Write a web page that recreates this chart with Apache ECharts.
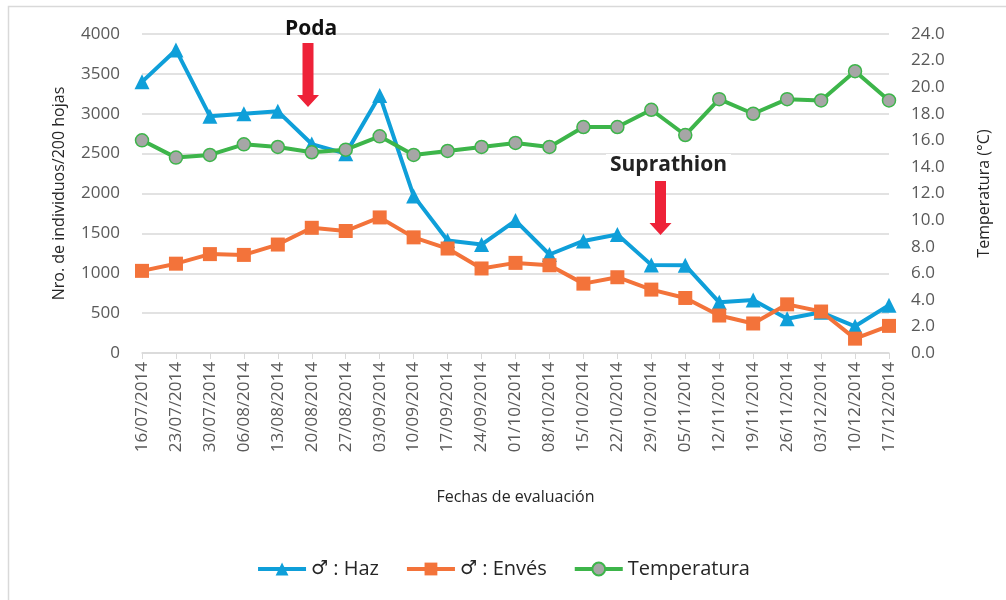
<!DOCTYPE html>
<html>
<head>
<meta charset="utf-8">
<script src="https://cdn.jsdelivr.net/npm/echarts@6/dist/echarts.min.js"></script>
<style>
  html, body { margin: 0; padding: 0; background: #fff; }
  #chart { width: 1006px; height: 600px; }
</style>
</head>
<body>
<div id="chart"></div>
<script>
// Population of males on leaf faces vs. temperature, weekly samples 2014.
const FONT = "'Open Sans', 'Noto Sans', sans-serif";
const GREY = '#595959';

const fechas = [
  '16/07/2014', '23/07/2014', '30/07/2014', '06/08/2014', '13/08/2014', '20/08/2014',
  '27/08/2014', '03/09/2014', '10/09/2014', '17/09/2014', '24/09/2014', '01/10/2014',
  '08/10/2014', '15/10/2014', '22/10/2014', '29/10/2014', '05/11/2014', '12/11/2014',
  '19/11/2014', '26/11/2014', '03/12/2014', '10/12/2014', '17/12/2014',
];
const haz = [3400, 3800, 2970, 3000, 3030, 2620, 2500, 3230, 1970, 1410, 1360, 1660,
  1235, 1405, 1485, 1105, 1100, 635, 665, 430, 510, 335, 600];
const enves = [1030, 1120, 1240, 1230, 1360, 1570, 1530, 1700, 1450, 1310, 1060, 1130,
  1100, 870, 950, 795, 690, 470, 370, 610, 520, 180, 340];
const temperatura = [16.0, 14.7, 14.9, 15.7, 15.5, 15.1, 15.3, 16.3, 14.9, 15.2, 15.5, 15.8,
  15.5, 17.0, 17.0, 18.3, 16.4, 19.1, 18.0, 19.1, 19.0, 21.2, 19.0];

const chart = echarts.init(document.getElementById('chart'));

const axisText = { color: GREY, fontFamily: FONT, fontSize: 17 };
const nameText = { color: '#262626', fontSize: 16, fontFamily: FONT };

function arrow(cx, top, tip) {
  // red block arrow pointing down
  return {
    type: 'polygon',
    shape: {
      points: [
        [cx - 5.5, top], [cx + 5.5, top], [cx + 5.5, tip - 12], [cx + 11, tip - 12],
        [cx, tip], [cx - 11, tip - 12], [cx - 5.5, tip - 12],
      ],
    },
    style: { fill: '#ee2238' },
    z: 20,
  };
}

chart.setOption({
  animation: false,
  textStyle: { fontFamily: FONT },
  grid: { left: 142, right: 117, top: 34, bottom: 247 },
  legend: {
    bottom: 16,
    left: 'center',
    itemWidth: 48,
    itemHeight: 16,
    itemGap: 26,
    lineStyle: { width: 4 },
    textStyle: {
      color: '#262626', fontFamily: FONT, fontSize: 20,
      rich: { m: { fontFamily: "'DejaVu Sans', sans-serif", fontSize: 19, color: '#262626' } },
    },
    formatter: (name) => name.replace('♂', '{m|♂}'),
    data: ['♂ : Haz', '♂ : Envés', 'Temperatura'],
  },
  xAxis: {
    type: 'category',
    data: fechas,
    boundaryGap: false,
    name: 'Fechas de evaluación',
    nameLocation: 'middle',
    nameGap: 136,
    nameTextStyle: nameText,
    axisLine: { lineStyle: { color: '#d9d9d9', width: 1.5 } },
    axisTick: { show: true, length: 6, lineStyle: { color: '#d9d9d9' } },
    axisLabel: Object.assign({ rotate: 90, margin: 9, interval: 0 }, axisText),
  },
  yAxis: [
    {
      type: 'value', min: 0, max: 4000, interval: 500,
      name: 'Nro. de individuos/200 hojas',
      nameLocation: 'middle', nameGap: 75,
      nameTextStyle: nameText,
      axisLine: { show: false },
      axisTick: { show: false },
      axisLabel: Object.assign({ margin: 22, formatter: (v) => String(v) }, axisText),
      splitLine: { lineStyle: { color: '#d9d9d9', width: 1.5 } },
    },
    {
      type: 'value', min: 0, max: 24, interval: 2,
      name: 'Temperatura (°C)',
      nameLocation: 'middle', nameGap: 87,
      nameTextStyle: nameText,
      axisLine: { show: false },
      axisTick: { show: false },
      axisLabel: Object.assign({ margin: 22, formatter: (v) => v.toFixed(1) }, axisText),
      splitLine: { show: false },
    },
  ],
  series: [
    {
      name: '♂ : Haz', type: 'line', data: haz, yAxisIndex: 0,
      symbol: 'triangle', symbolSize: 15,
      lineStyle: { color: '#0f9fd9', width: 4 },
      itemStyle: { color: '#0f9fd9' },
      z: 3,
    },
    {
      name: '♂ : Envés', type: 'line', data: enves, yAxisIndex: 0,
      symbol: 'rect', symbolSize: 14,
      lineStyle: { color: '#f3733a', width: 4 },
      itemStyle: { color: '#f3733a' },
      z: 4,
    },
    {
      name: 'Temperatura', type: 'line', data: temperatura, yAxisIndex: 1,
      symbol: 'circle', symbolSize: 13,
      lineStyle: { color: '#3db54a', width: 4 },
      itemStyle: { color: '#a6a6a6', borderColor: '#3db54a', borderWidth: 1.5 },
      z: 5,
    },
  ],
  graphic: [
    {
      type: 'rect', silent: true,
      shape: { x: 8.5, y: 6.5, width: 1100, height: 700 },
      style: { fill: null, stroke: '#d9d9d9', lineWidth: 1.5 },
    },
    {
      type: 'text', left: 285, top: 19, z: 21,
      style: { text: 'Poda', fill: '#111', font: "bold 21px 'Open Sans', sans-serif" },
    },
    arrow(308, 43, 107),
    {
      type: 'text', left: 606, top: 154, z: 21,
      style: {
        text: 'Suprathion', fill: '#222', font: "bold 21px 'Open Sans', sans-serif",
        backgroundColor: '#fff', padding: [1, 4],
      },
    },
    arrow(660.5, 181, 235),
  ],
});
</script>
</body>
</html>
